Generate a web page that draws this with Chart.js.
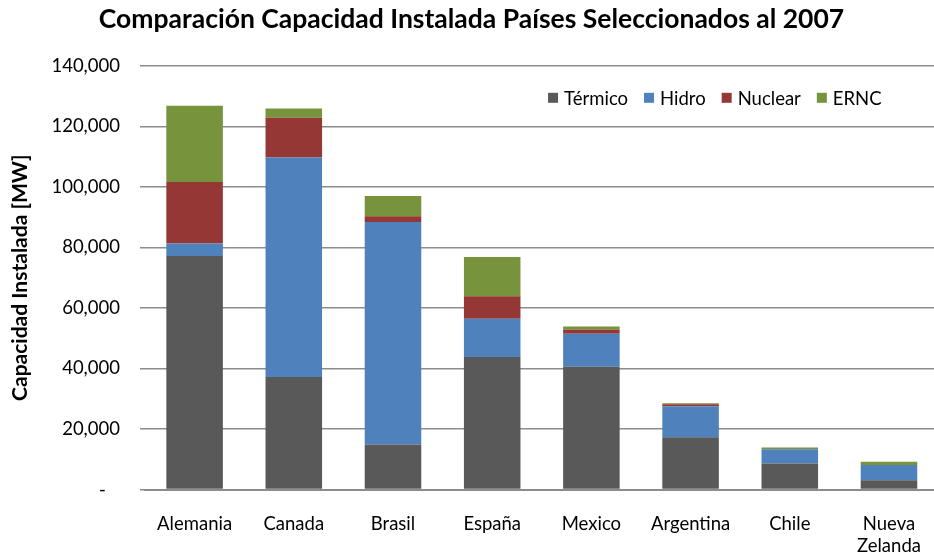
<!DOCTYPE html>
<html>
<head>
<meta charset="utf-8">
<script src="https://cdn.jsdelivr.net/npm/chart.js@4"></script>
<style>
  html, body { margin: 0; padding: 0; background: #fff; overflow: hidden; }
  #wrap { width: 944px; height: 580px; }
</style>
</head>
<body>
<div id="wrap"><canvas id="chart"></canvas></div>
<script>
const paises = ['Alemania', 'Canada', 'Brasil', 'España', 'Mexico', 'Argentina', 'Chile', ['Nueva', 'Zelanda']];

// capacidad instalada [MW]
const termico = [77200, 37200, 14900, 43800, 40600, 17300, 8600, 3100];
const hidro   = [4100, 72500, 73500, 12600, 10900, 10200, 4700, 5000];
const nuclear = [20300, 13100, 1900, 7500, 1300, 700, 0, 0];
const ernc    = [25200, 3100, 6700, 12900, 1100, 300, 600, 1100];

const FONT = 'Lato, "Liberation Sans", sans-serif';
const LBL = 18.5;

// leyenda dibujada dentro del area del grafico (arriba a la derecha)
const legendInside = {
    id: 'legendInside',
    afterDraw(chart) {
        const c = chart.ctx;
        const area = chart.chartArea;
        c.save();
        c.font = LBL + 'px ' + FONT;
        c.textBaseline = 'middle';
        const box = 10, gap = 6, spacing = 16;
        const items = chart.data.datasets.map(ds => ({ label: ds.label, color: ds.backgroundColor }));
        let total = 0;
        items.forEach((it, i) => {
            it.w = c.measureText(it.label).width;
            total += box + gap + it.w + (i < items.length - 1 ? spacing : 0);
        });
        let x = area.right - 57 - total;
        const y = area.top + 32;
        items.forEach(it => {
            c.fillStyle = it.color;
            c.fillRect(x, y - box / 2, box, box);
            c.fillStyle = '#000';
            c.fillText(it.label, x + box + gap, y + 1);
            x += box + gap + it.w + spacing;
        });
        c.restore();
    }
};

const ctx = document.getElementById('chart').getContext('2d');

new Chart(ctx, {
    type: 'bar',
    data: {
        labels: paises,
        datasets: [
            { label: 'Térmico', data: termico, backgroundColor: '#595959' },
            { label: 'Hidro', data: hidro, backgroundColor: '#4f81bd' },
            { label: 'Nuclear', data: nuclear, backgroundColor: '#953735' },
            { label: 'ERNC', data: ernc, backgroundColor: '#77933c' }
        ]
    },
    options: {
        responsive: true,
        maintainAspectRatio: false,
        animation: false,
        datasets: {
            bar: {
                barPercentage: 0.57,
                categoryPercentage: 1,
                borderWidth: 0
            }
        },
        layout: { padding: { left: 0, right: 1, top: 0, bottom: 0 } },
        plugins: {
            legend: { display: false },
            tooltip: { enabled: false },
            title: {
                display: true,
                text: 'Comparación Capacidad Instalada Países Seleccionados al 2007',
                color: '#000',
                font: { family: FONT, size: 26.5, weight: 'bold' },
                padding: { top: 4, bottom: 30 }
            }
        },
        scales: {
            x: {
                stacked: true,
                grid: { display: false, drawTicks: false },
                border: { display: true, color: '#8c8c8c', width: 2 },
                ticks: {
                    color: '#000',
                    padding: 23,
                    maxRotation: 0,
                    autoSkip: false,
                    font: { family: FONT, size: LBL }
                }
            },
            y: {
                stacked: true,
                min: 0,
                max: 140000,
                afterFit(scale) { scale.width = 145; },
                grid: { color: '#8c8c8c', lineWidth: 1.5, tickLength: 5 },
                border: { display: false },
                ticks: {
                    stepSize: 20000,
                    color: '#000',
                    padding: 20,
                    font: { family: FONT, size: LBL },
                    callback: v => v === 0 ? '-\u00a0\u00a0\u00a0' : v.toLocaleString('en-US')
                },
                title: {
                    display: true,
                    text: 'Capacidad Instalada [MW]',
                    color: '#000',
                    font: { family: FONT, size: 21, weight: 'bold' },
                    padding: { top: 8, bottom: 0 }
                }
            }
        }
    },
    plugins: [legendInside]
});
</script>
</body>
</html>
